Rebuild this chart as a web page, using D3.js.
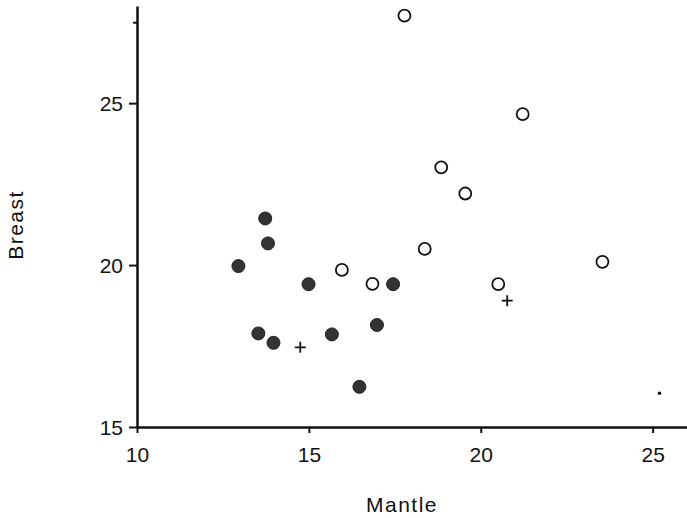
<!DOCTYPE html>
<html>
<head>
<meta charset="utf-8">
<script src="https://cdn.jsdelivr.net/npm/d3@7"></script>
<style>
  body { margin: 0; background: #fff; }
  svg { display: block; font-family: "Liberation Sans", Arial, sans-serif; }
  .axis path, .axis line { stroke: #111; }
  .axis text { font-size: 21px; fill: #111; }
</style>
</head>
<body>
<div id="chart"></div>
<script>
// Scatter of Breast vs Mantle
const filledMantle = [13.73, 13.81, 12.95, 14.99, 17.45, 13.53, 13.97, 15.67, 16.98, 16.47];
const filledBreast = [21.44, 20.67, 19.97, 19.41, 19.41, 17.89, 17.60, 17.86, 18.15, 16.24];

const openMantle = [15.96, 16.85, 17.78, 21.22, 18.85, 19.55, 18.37, 23.54, 20.51];
const openBreast = [19.85, 19.42, 27.70, 24.66, 23.02, 22.21, 20.50, 20.10, 19.41];

const plusMantle = [14.75, 20.77];
const plusBreast = [17.46, 18.90];

const dotMantle = [25.20];
const dotBreast = [16.04];

const xTicks = [10, 15, 20, 25];
const yTicks = [15, 20, 25, 27.5];
const yTickLabels = ["15", "20", "25", ""];

const width = 687, height = 518;

const svg = d3.select("#chart").append("svg")
    .attr("width", width)
    .attr("height", height);

const x = d3.scaleLinear().domain([10, 26]).range([137, 687]);
const y = d3.scaleLinear().domain([15, 28]).range([427, 6]);

// axes
const xAxis = svg.append("g")
    .attr("class", "axis")
    .attr("transform", `translate(0,${y(15)})`)
    .call(d3.axisBottom(x).tickValues(xTicks).tickSize(6).tickSizeOuter(0).tickPadding(14));
xAxis.select(".domain").attr("stroke-width", 2.5);
xAxis.selectAll(".tick line").attr("stroke-width", 2);

const yAxis = svg.append("g")
    .attr("class", "axis")
    .attr("transform", `translate(${x(10)},0)`)
    .call(d3.axisLeft(y).tickValues(yTicks).tickSize(8).tickSizeOuter(0).tickPadding(6)
        .tickFormat((d, i) => yTickLabels[i]));
yAxis.select(".domain").attr("stroke-width", 2.5);
yAxis.selectAll(".tick line").attr("stroke-width", 2);
yAxis.selectAll(".tick").filter(d => d === 27.5).select("line").attr("x2", -4);
yAxis.selectAll(".tick text").attr("dy", "0.36em");

// axis titles
svg.append("text")
    .attr("x", 402).attr("y", 512)
    .attr("text-anchor", "middle")
    .attr("font-size", 21)
    .attr("letter-spacing", 1.5)
    .attr("fill", "#111")
    .text("Mantle");

svg.append("text")
    .attr("transform", `translate(23,225) rotate(-90)`)
    .attr("text-anchor", "middle")
    .attr("font-size", 21)
    .attr("letter-spacing", 1.5)
    .attr("fill", "#111")
    .text("Breast");

// marks
const filled = d3.zip(filledMantle, filledBreast);
svg.append("g").selectAll("circle")
    .data(filled).enter().append("circle")
    .attr("cx", d => x(d[0]))
    .attr("cy", d => y(d[1]))
    .attr("r", 6.5)
    .attr("fill", "#333")
    .attr("stroke", "#222")
    .attr("stroke-width", 1);

const open = d3.zip(openMantle, openBreast);
svg.append("g").selectAll("circle")
    .data(open).enter().append("circle")
    .attr("cx", d => x(d[0]))
    .attr("cy", d => y(d[1]))
    .attr("r", 6)
    .attr("fill", "none")
    .attr("stroke", "#111")
    .attr("stroke-width", 1.8);

const plus = d3.zip(plusMantle, plusBreast);
svg.append("g").selectAll("path")
    .data(plus).enter().append("path")
    .attr("d", d => `M${x(d[0]) - 5.5},${y(d[1])}h11M${x(d[0])},${y(d[1]) - 5.5}v11`)
    .attr("stroke", "#111")
    .attr("stroke-width", 1.8);

const dots = d3.zip(dotMantle, dotBreast);
svg.append("g").selectAll("circle")
    .data(dots).enter().append("circle")
    .attr("cx", d => x(d[0]))
    .attr("cy", d => y(d[1]))
    .attr("r", 1.8)
    .attr("fill", "#111");
</script>
</body>
</html>
